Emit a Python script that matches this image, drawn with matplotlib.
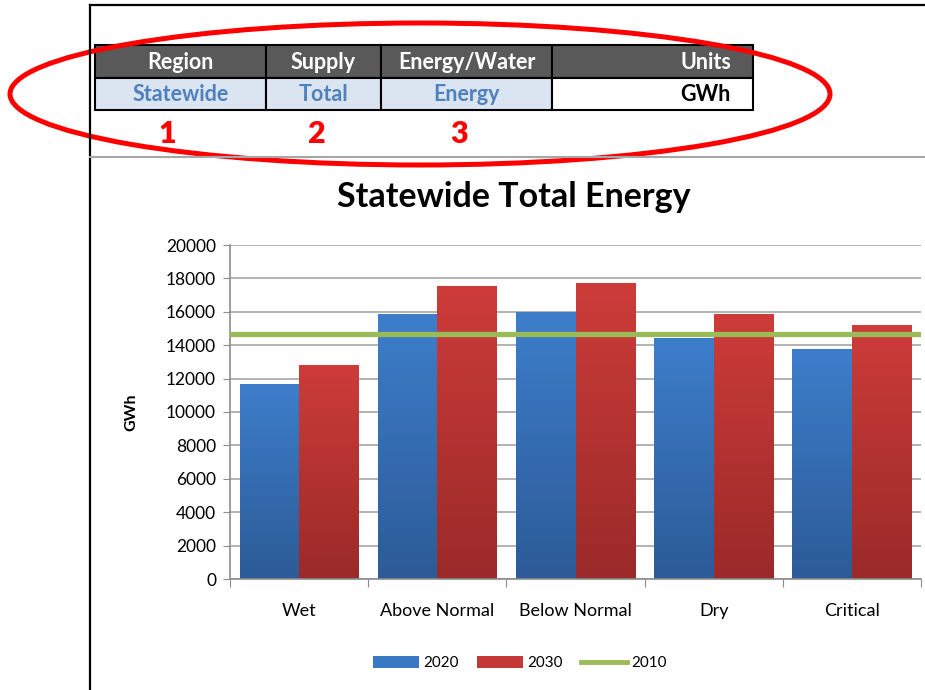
import numpy as np
import matplotlib.pyplot as plt
from matplotlib.patches import Rectangle, Ellipse, Patch
from matplotlib.lines import Line2D
from matplotlib.colors import LinearSegmentedColormap

plt.rcParams['font.family'] = ['Lato', 'DejaVu Sans']

# === data ===
categories = ["Wet", "Above Normal", "Below Normal", "Dry", "Critical"]
values_2020 = [11650, 15850, 16000, 14450, 13750]
values_2030 = [12800, 17550, 17750, 15850, 15200]
value_2010 = 14700
header_labels = ["Region", "Supply", "Energy/Water", "Units"]
value_labels = ["Statewide", "Total", "Energy", "GWh"]
marker_labels = ["1", "2", "3"]

# === figure ===
W, H = 925, 690
fig = plt.figure(figsize=(W / 100, H / 100), dpi=100)

# overlay in pixel coordinates for the table part
ov = fig.add_axes([0, 0, 1, 1], zorder=5)
ov.set_xlim(0, W)
ov.set_ylim(H, 0)
ov.axis("off")
ov.patch.set_alpha(0)

# page borders
ov.plot([90, 90], [5, H], color="black", lw=1.6)
ov.plot([90, W], [5, 5], color="black", lw=1.6)
ov.plot([90, W], [157, 157], color="#a6a6a6", lw=1.5)

# table
col_edges = [95, 266, 381, 552, 753]
row_top, row_mid, row_bot = 45, 77.5, 110
for i in range(4):
    x0, x1 = col_edges[i], col_edges[i + 1]
    ov.add_patch(Rectangle((x0, row_top), x1 - x0, row_mid - row_top,
                           facecolor="#595959", edgecolor="black", lw=1.5))
    face = "white" if i == 3 else "#dbe5f1"
    ov.add_patch(Rectangle((x0, row_mid), x1 - x0, row_bot - row_mid,
                           facecolor=face, edgecolor="black", lw=1.5))
    if i == 3:
        ov.text(x1 - 22, (row_top + row_mid) / 2 + 1, header_labels[i], color="white",
                fontsize=15.5, fontweight="bold", ha="right", va="center")
        ov.text(x1 - 22, (row_mid + row_bot) / 2 + 1, value_labels[i], color="black",
                fontsize=15.5, fontweight="bold", ha="right", va="center")
    else:
        ov.text((x0 + x1) / 2, (row_top + row_mid) / 2 + 1, header_labels[i], color="white",
                fontsize=15.5, fontweight="bold", ha="center", va="center")
        ov.text((x0 + x1) / 2, (row_mid + row_bot) / 2 + 1, value_labels[i], color="#4f81bd",
                fontsize=15.5, fontweight="bold", ha="center", va="center")

for lab, xc in zip(marker_labels, [167, 316, 459]):
    ov.text(xc, 134, lab, color="#ff0000", fontsize=22, fontweight="heavy",
            ha="center", va="center")

ov.add_patch(Ellipse((420, 94), 820, 142, facecolor="none", edgecolor="#ff0000", lw=3.6))

# === chart ===
ax = fig.add_axes([230 / W, 1 - 579 / H, 691 / W, (579 - 245) / H])
x = np.arange(len(categories))
bw = 0.43

blue_cmap = LinearSegmentedColormap.from_list("b", ["#2c5b97", "#3d7ecb"])
red_cmap = LinearSegmentedColormap.from_list("r", ["#9a2a29", "#cd3c39"])

bars_a = ax.bar(x - bw / 2, values_2020, bw, color="#3a78c3", zorder=2)
bars_b = ax.bar(x + bw / 2, values_2030, bw, color="#c43836", zorder=2)

grad = np.linspace(0, 1, 256).reshape(-1, 1)
for bars, cmap in [(bars_a, blue_cmap), (bars_b, red_cmap)]:
    for b in bars:
        x0, y0 = b.get_x(), b.get_y()
        w, h = b.get_width(), b.get_height()
        im = ax.imshow(grad, cmap=cmap, origin="lower", aspect="auto",
                       extent=(x0, x0 + w, 0, h), zorder=2.5)
        im.set_clip_path(b)

ax.axhline(value_2010, color="#9bbb59", lw=3.8, zorder=3)

ax.set_xlim(-0.5, len(categories) - 0.5)
ax.set_ylim(0, 20000)
ax.set_yticks(np.arange(0, 20001, 2000))
ax.yaxis.grid(True, color="#a6a6a6", lw=1.2, zorder=0)
ax.set_axisbelow(True)

ax.set_xticks(np.arange(-0.5, len(categories), 1.0))
ax.set_xticklabels([])
ax.set_xticks(x, minor=True)
ax.set_xticklabels(categories, minor=True, fontsize=13)
ax.tick_params(axis="x", which="minor", length=0, pad=17)
ax.tick_params(axis="x", which="major", length=6, color="#8c8c8c", direction="out")
ax.tick_params(axis="y", length=5, color="#8c8c8c", labelsize=12.5, pad=5)

for s in ["top", "right"]:
    ax.spines[s].set_visible(False)
for s in ["left", "bottom"]:
    ax.spines[s].set_color("#8c8c8c")
    ax.spines[s].set_linewidth(1.2)

ax.set_ylabel("GWh", fontsize=11.5, fontweight="bold", labelpad=20)

fig.text(514 / W, 1 - 197 / H, "Statewide Total Energy", fontsize=24.5,
         fontweight="bold", ha="center", va="center")

handles = [Patch(facecolor="#3a78c3"), Patch(facecolor="#c43836"),
           Line2D([0], [0], color="#9bbb59", lw=3.5)]
fig.legend(handles, ["2020", "2030", "2010"], loc="center",
           bbox_to_anchor=(520 / W, 1 - 663 / H), ncol=3, frameon=False,
           fontsize=11, handlelength=3.0, handleheight=0.8, columnspacing=1.2,
           handletextpad=0.3)

fig.savefig("out.png", dpi=100)
